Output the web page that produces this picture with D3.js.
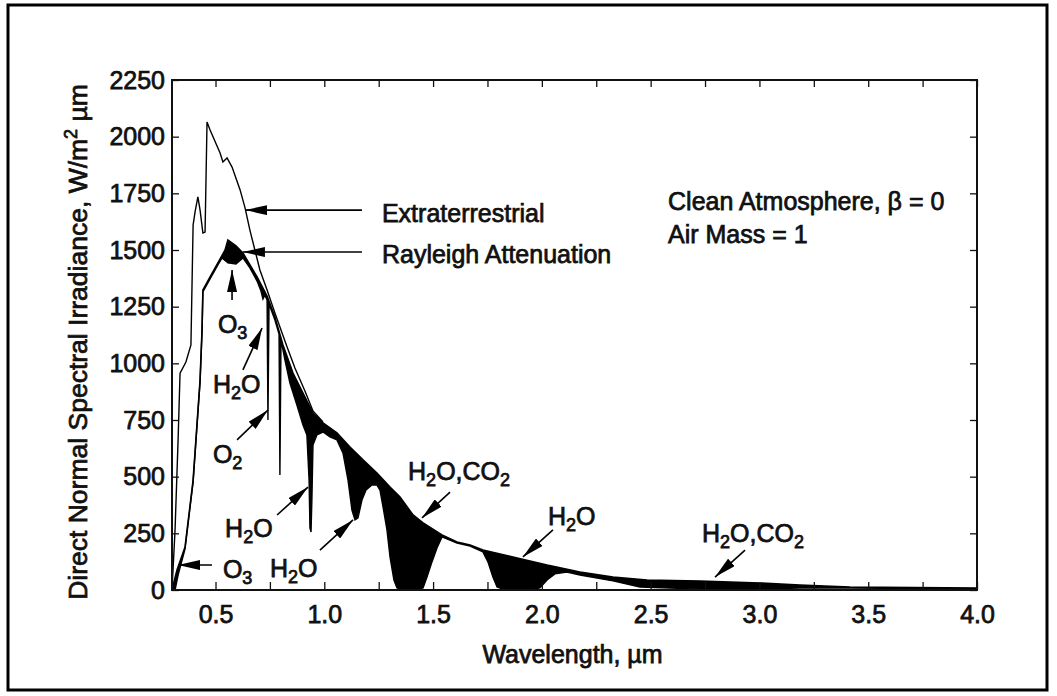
<!DOCTYPE html>
<html>
<head>
<meta charset="utf-8">
<script src="https://cdn.jsdelivr.net/npm/d3@7"></script>
<style>
  body { margin: 0; background: #fff; }
  text { font-family: "Liberation Sans", Arial, sans-serif; fill: #111; }
  .txt { stroke: #111; stroke-width: 0.75px; }
</style>
</head>
<body>
<div id="myChart"></div>
<script>
// Extraterrestrial curve: wavelength (µm) and irradiance (W/m² µm)
let etWave = [0.300, 0.314, 0.328, 0.337, 0.364, 0.387, 0.397, 0.406, 0.419, 0.429, 0.442, 0.452,
  0.461, 0.475, 0.521, 0.534, 0.553, 0.576, 0.613, 0.636, 0.658, 0.681, 0.704, 0.737, 0.773,
  0.829, 0.865, 0.911, 0.948, 0.994];
let etValue = [0, 265, 662, 957, 1006, 1081, 1610, 1668, 1734, 1676, 1575, 1579,
  2065, 2029, 1928, 1888, 1906, 1866, 1765, 1685, 1588, 1500, 1412, 1324, 1222,
  1072, 979, 878, 790, 741];

// Rayleigh attenuation curve (upper edge of the black absorption bands)
let rayWave = [0.300, 0.323, 0.360, 0.397, 0.429, 0.438, 0.442, 0.475, 0.511, 0.544, 0.557, 0.594,
  0.626, 0.691, 0.737, 0.773, 0.810, 0.856, 0.902, 0.948, 0.994, 1.058, 1.118, 1.178, 1.242,
  1.302, 1.348, 1.408, 1.454, 1.541, 1.610, 1.670, 1.729, 1.867, 2.024, 2.175, 2.327, 2.483,
  2.727, 3.003, 3.186, 3.416, 4.000];
let rayValue = [0, 88, 190, 485, 926, 1147, 1324, 1381, 1443, 1500, 1544, 1518,
  1487, 1381, 1297, 1204, 1081, 957, 869, 781, 737, 693, 631, 574, 516,
  454, 410, 331, 296, 243, 212, 199, 176, 146, 110, 79, 57, 44,
  40, 31, 22, 13, 9];

// Direct beam after molecular absorption (lower edge of the black bands)
let dirWave = [0.314, 0.328, 0.360, 0.397, 0.429, 0.438, 0.442, 0.475, 0.511, 0.530, 0.557, 0.594,
  0.626, 0.658, 0.691, 0.709, 0.718, 0.727, 0.737, 0.741, 0.746, 0.773, 0.792, 0.796, 0.801,
  0.810, 0.819, 0.842, 0.874, 0.902, 0.920, 0.930, 0.934, 0.939, 0.943, 0.948, 0.966, 0.994,
  1.026, 1.058, 1.086, 1.109, 1.127, 1.141, 1.155, 1.173, 1.192, 1.219, 1.242, 1.256, 1.270,
  1.288, 1.302, 1.320, 1.334, 1.371, 1.417, 1.454, 1.472, 1.495, 1.518, 1.541, 1.610, 1.670,
  1.729, 1.752, 1.775, 1.794, 1.831, 1.945, 1.991, 2.024, 2.060, 2.115, 2.175, 2.327, 2.451,
  2.727, 3.003, 3.186, 3.416, 4.000];
let dirValue = [0, 66, 181, 476, 918, 1138, 1315, 1372, 1434, 1465, 1443, 1438,
  1465, 1421, 1363, 1319, 1284, 1301, 1279, 750, 1262, 1191, 1129, 507, 1107,
  1059, 1015, 913, 816, 728, 684, 485, 274, 256, 397, 640, 684, 697,
  675, 662, 604, 485, 353, 309, 318, 397, 441, 463, 463, 441, 366,
  265, 146, 44, 9, 0, 0, 9, 57, 124, 185, 234, 207, 194,
  168, 124, 57, 13, 0, 0, 9, 44, 71, 79, 66, 40, 13,
  4, 4, 9, 9, 4];

let xTicks = [0.5, 0.75, 1.0, 1.25, 1.5, 1.75, 2.0, 2.25, 2.5, 2.75, 3.0, 3.25, 3.5, 3.75, 4.0];
let yTicks = [0, 250, 500, 750, 1000, 1250, 1500, 1750, 2000, 2250];

let margin = { top: 80, right: 80, bottom: 106, left: 172 },
  width = 1057 - margin.left - margin.right,
  height = 696 - margin.top - margin.bottom;

let root = d3
  .select("#myChart")
  .append("svg")
  .attr("width", 1057)
  .attr("height", 696);

// outer border of the figure
root
  .append("rect")
  .attr("x", 8)
  .attr("y", 5)
  .attr("width", 1039)
  .attr("height", 685)
  .attr("fill", "none")
  .attr("stroke", "#000")
  .attr("stroke-width", 3);

root
  .append("defs")
  .append("marker")
  .attr("id", "head")
  .attr("viewBox", "0 -5 22 10")
  .attr("refX", 22)
  .attr("refY", 0)
  .attr("markerUnits", "userSpaceOnUse")
  .attr("markerWidth", 22)
  .attr("markerHeight", 10)
  .attr("orient", "auto")
  .append("path")
  .attr("d", "M0,-5L22,0L0,5Z")
  .attr("fill", "#000");

let svg = root
  .append("g")
  .attr("transform", `translate(${margin.left}, ${margin.top})`);

let x = d3.scaleLinear().domain([0.3, 4.0]).range([0, width]);
let y = d3.scaleLinear().domain([0, 2250]).range([height, 0]);

let et = etWave.map((w, i) => [w, etValue[i]]);
let ray = rayWave.map((w, i) => [w, rayValue[i]]);
let dir = dirWave.map((w, i) => [w, dirValue[i]]);

let line = d3
  .line()
  .x((d) => x(d[0]))
  .y((d) => y(d[1]));

// black absorption bands: between Rayleigh curve and direct curve
svg
  .append("path")
  .attr("d", line(ray.concat(dir.slice().reverse())) + "Z")
  .attr("fill", "#000")
  .attr("stroke", "none");

svg
  .append("path")
  .attr("d", line(ray))
  .attr("fill", "none")
  .attr("stroke", "#000")
  .attr("stroke-width", 1.6);

svg
  .append("path")
  .attr("d", line(dir))
  .attr("fill", "none")
  .attr("stroke", "#000")
  .attr("stroke-width", 1.4);

svg
  .append("path")
  .attr("d", line(et))
  .attr("fill", "none")
  .attr("stroke", "#000")
  .attr("stroke-width", 1.4);

// axes with inward ticks
let fmtX = (d) => (Math.round(d * 4) % 2 === 0 ? d3.format(".1f")(d) : "");

svg
  .append("g")
  .attr("transform", `translate(0,${height})`)
  .call(d3.axisBottom(x).tickValues(xTicks).tickSize(-8).tickPadding(15).tickFormat(fmtX));

svg
  .append("g")
  .call(d3.axisTop(x).tickValues(xTicks).tickSize(-7).tickFormat(""));

svg
  .append("g")
  .call(d3.axisLeft(y).tickValues(yTicks).tickSize(-7).tickPadding(7).tickFormat(d3.format("d")));

svg
  .append("g")
  .attr("transform", `translate(${width},0)`)
  .call(d3.axisRight(y).tickValues(yTicks).tickSize(-7).tickFormat(""));

svg.selectAll(".domain").remove();
svg.selectAll(".tick line").attr("stroke", "#111").attr("stroke-width", 1.3);
svg
  .selectAll(".tick text")
  .attr("class", "txt")
  .style("font-size", "25px")
  .style("font-family", '"Liberation Sans", Arial, sans-serif')
  .attr("fill", "#111");

// plot frame
svg
  .append("rect")
  .attr("width", width)
  .attr("height", height)
  .attr("fill", "none")
  .attr("stroke", "#111")
  .attr("stroke-width", 2);

// axis titles
svg
  .append("text")
  .attr("class", "txt")
  .attr("x", width / 2 - 2)
  .attr("y", height + 73)
  .style("text-anchor", "middle")
  .style("font-size", "25px")
  .text("Wavelength, µm");

let yTitle = svg
  .append("text")
  .attr("class", "txt")
  .attr("transform", "rotate(-90)")
  .attr("x", -262)
  .attr("y", -85)
  .style("text-anchor", "middle")
  .style("font-size", "26.5px");
yTitle.append("tspan").text("Direct Normal Spectral Irradiance, W/m");
yTitle.append("tspan").attr("dy", -10).style("font-size", "18px").text("2");
yTitle.append("tspan").attr("dy", 10).text(" µm");

// curve captions with long arrows
function arrow(x1, y1, x2, y2) {
  svg
    .append("line")
    .attr("x1", x(x1))
    .attr("y1", y(y1))
    .attr("x2", x(x2))
    .attr("y2", y(y2))
    .attr("stroke", "#000")
    .attr("stroke-width", 1.6)
    .attr("marker-end", "url(#head)");
}

function caption(wx, wy, str) {
  svg
    .append("text")
    .attr("class", "txt")
    .attr("x", x(wx))
    .attr("y", y(wy))
    .style("font-size", "25px")
    .text(str);
}

caption(1.265, 1624, "Extraterrestrial");
arrow(1.173, 1676, 0.636, 1676);
caption(1.265, 1443, "Rayleigh Attenuation");
arrow(1.173, 1491, 0.626, 1491);

caption(2.58, 1676, "Clean Atmosphere, \u03b2 = 0");
caption(2.58, 1531, "Air Mass = 1");

// chemical labels, digits drawn as subscripts
function chem(wx, wy, str) {
  let t = svg
    .append("text")
    .attr("class", "txt")
    .attr("x", x(wx))
    .attr("y", y(wy))
    .style("font-size", "25px");
  let low = false;
  str.split("").forEach((c) => {
    let isDigit = /[0-9]/.test(c);
    let sp = t.append("tspan").text(c);
    if (isDigit && !low) {
      sp.attr("dy", 6).style("font-size", "18px");
      low = true;
    } else if (isDigit) {
      sp.style("font-size", "18px");
    } else if (low) {
      sp.attr("dy", -6);
      low = false;
    }
  });
}

chem(0.511, 1134, "O3");
arrow(0.576, 1279, 0.576, 1412);

chem(0.488, 869, "H2O");
arrow(0.626, 971, 0.714, 1156);

chem(0.488, 560, "O2");
arrow(0.599, 662, 0.741, 794);

chem(0.544, 234, "H2O");
arrow(0.783, 331, 0.925, 454);

chem(0.534, 53, "O3");
arrow(0.484, 110, 0.328, 110);

chem(0.75, 57, "H2O");
arrow(0.98, 176, 1.132, 309);

chem(1.385, 485, "H2O,CO2");
arrow(1.578, 432, 1.449, 318);

chem(2.028, 287, "H2O");
arrow(2.051, 265, 1.913, 146);

chem(2.736, 212, "H2O,CO2");
arrow(2.934, 176, 2.796, 57);
</script>
</body>
</html>
